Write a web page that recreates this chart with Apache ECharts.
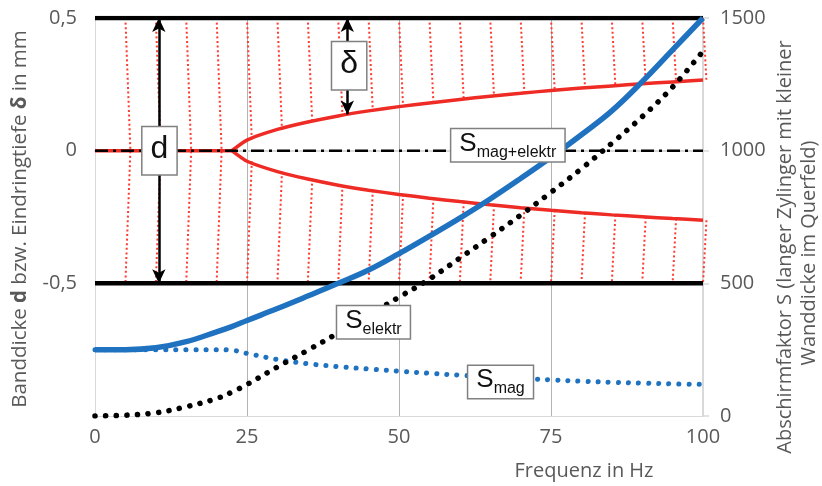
<!DOCTYPE html>
<html>
<head>
<meta charset="utf-8">
<script src="https://cdn.jsdelivr.net/npm/echarts@6/dist/echarts.min.js"></script>
<style>
html,body{margin:0;padding:0;background:#fff;}
#chart{width:822px;height:486px;}
</style>
</head>
<body>
<div id="chart"></div>
<script>
// ---- data ----
var freq = [0, 5, 10, 15, 20, 22.5, 25, 30, 35, 40, 45, 50, 55, 60, 65, 70, 75, 80, 85, 90, 95, 100];
// Abschirmfaktor (right axis)
var sElektr = [250, 250, 257, 280, 317, 337, 360, 405, 452, 500, 550, 612, 678, 746, 818, 895, 975, 1060, 1150, 1260, 1380, 1500];
var sMag = [250, 250, 250, 250, 250, 248, 236, 213, 197, 186, 177, 169, 161, 154, 149, 142, 136, 131, 127, 124, 121, 119];
var sMagElektr = [0, 3, 12, 35, 66, 90, 119, 185, 248, 313, 380, 448, 516, 595, 675, 757, 843, 932, 1028, 1128, 1240, 1375];
// penetration limit curves (left axis, mm)
var deltaUpper = [0, 0, 0, 0, 0, 0, 0.040, 0.080, 0.108, 0.131, 0.150, 0.166, 0.180, 0.193, 0.205, 0.216, 0.227, 0.236, 0.244, 0.252, 0.259, 0.266];
var deltaLower = [0, 0, 0, 0, 0, 0, -0.040, -0.079, -0.107, -0.130, -0.149, -0.165, -0.179, -0.192, -0.204, -0.215, -0.225, -0.234, -0.242, -0.249, -0.256, -0.262];
var splitIndex = 5; // full penetration up to 22.5 Hz
// band surfaces
var bandTop = 0.5;
var bandBottom = -0.5;
var hatchFreq = [5, 10, 15, 20, 25, 30, 35, 40, 45, 50, 55, 60, 65, 70, 75, 80, 85, 90, 95, 100];
// arrows
var dArrowFreq = 10.5;
var deltaArrowFreq = 41.5;
// tick labels
var xTicks = [0, 25, 50, 75, 100];
var leftTicks = ['-0,5', '0', '0,5'];
var rightTicks = [0, 500, 1000, 1500];
// annotation boxes [freq, y(left axis), label]
var annotations = [
  [10.6, 0.0, '{t|d}', 'big'],
  [41.8, 0.32, '{t|δ}', 'big'],
  [67.9, 0.02, '{s|S}{sub|mag+elektr}', 'sub'],
  [45.8, -0.647, '{s|S}{sub|elektr}', 'sub'],
  [66.7, -0.872, '{s|S}{sub|mag}', 'sub']
];

function interp(xs, ys, x) {
  for (var i = 0; i < xs.length - 1; i++) {
    if (x >= xs[i] && x <= xs[i + 1]) {
      var t = (x - xs[i]) / (xs[i + 1] - xs[i]);
      return ys[i] + t * (ys[i + 1] - ys[i]);
    }
  }
  return ys[ys.length - 1];
}
function pairs(xs, ys) { return xs.map(function (x, i) { return [x, ys[i]]; }); }

var FONT = '"Open Sans", Roboto, sans-serif';
var BOXFONT = '"Liberation Sans", sans-serif';
var GREY = '#595959';
var BLUE = '#1f72bf';
var RED = '#ee2b24';

var hatchData = hatchFreq.map(function (f) {
  return [f, interp(freq, deltaUpper, f), interp(freq, deltaLower, f)];
});

var chart = echarts.init(document.getElementById('chart'));
var option = {
  animation: false,
  backgroundColor: '#fff',
  grid: { left: 95, right: 119, top: 18, bottom: 70, containLabel: false },
  xAxis: {
    type: 'value', min: 0, max: 100, interval: 25,
    axisLine: { show: true, lineStyle: { color: '#d9d9d9', width: 2 } },
    axisTick: { show: false },
    axisLabel: { color: GREY, fontSize: 20, fontFamily: FONT, margin: 11,
      formatter: function (v) { return xTicks.indexOf(v) >= 0 ? String(v) : ''; } },
    splitLine: { show: true, lineStyle: { color: '#b3b3b3', width: 1 } }
  },
  yAxis: [
    {
      type: 'value', min: -1, max: 0.5, interval: 0.5,
      axisLine: { show: true, lineStyle: { color: '#d9d9d9', width: 1 } },
      axisTick: { show: false },
      axisLabel: { color: GREY, fontSize: 20, fontFamily: FONT, margin: 18,
        formatter: function (v) {
          var s = String(v).replace('.', ',');
          return leftTicks.indexOf(s) >= 0 ? s : '';
        } },
      splitLine: { show: true, lineStyle: { color: '#d9d9d9', width: 1 } }
    },
    {
      type: 'value', min: 0, max: 1500, interval: 500, position: 'right',
      axisLine: { show: true, lineStyle: { color: '#d9d9d9', width: 2 } },
      axisTick: { show: true, length: 6, lineStyle: { color: '#d9d9d9', width: 1.5 } },
      axisLabel: { color: GREY, fontSize: 20, fontFamily: FONT, margin: 17,
        formatter: function (v) { return rightTicks.indexOf(v) >= 0 ? String(v) : ''; } },
      splitLine: { show: false }
    }
  ],
  graphic: [
    { type: 'text', x: 20, y: 219, rotation: Math.PI / 2, z: 100,
      style: { text: '{a|Banddicke }{b|d}{a| bzw. Eindringtiefe }{b|δ}{a| in mm}',
        align: 'center', verticalAlign: 'middle',
        rich: { a: { fontSize: 20.5, fontFamily: FONT, fill: GREY },
                b: { fontSize: 20.5, fontFamily: FONT, fill: GREY, fontWeight: 'bold' } } } },
    { type: 'text', x: 785, y: 247, rotation: Math.PI / 2, z: 100,
      style: { text: 'Abschirmfaktor S (langer Zylinger mit kleiner', fontSize: 20, fontFamily: FONT,
        fill: GREY, align: 'center', verticalAlign: 'middle' } },
    { type: 'text', x: 809, y: 253, rotation: Math.PI / 2, z: 100,
      style: { text: 'Wanddicke im Querfeld)', fontSize: 20, fontFamily: FONT,
        fill: GREY, align: 'center', verticalAlign: 'middle' } },
    { type: 'text', x: 584, y: 471, z: 100,
      style: { text: 'Frequenz in Hz', fontSize: 20, fontFamily: FONT,
        fill: GREY, align: 'center', verticalAlign: 'middle' } }
  ],
  series: [
    {
      name: 'hatch', type: 'custom', xAxisIndex: 0, yAxisIndex: 0, z: 1,
      data: hatchData, encode: { x: 0, y: 1 }, silent: true,
      renderItem: function (params, api) {
        var f = api.value(0), up = api.value(1), lo = api.value(2);
        var top = api.coord([f, bandTop]);
        var bot = api.coord([f, bandBottom]);
        var style = { stroke: '#ff3a30', lineWidth: 2, lineDash: [2, 2.6], fill: null };
        var children = [];
        if (up === 0 && lo === 0) {
          var mid = api.coord([f, 0]);
          children.push({ type: 'polyline', shape: { points: [top, [mid[0] + 5, mid[1]], bot] }, style: style });
        } else {
          var pu = api.coord([f, up]);
          var pl = api.coord([f, lo]);
          var fu = Math.sqrt((bandTop - up) / bandTop) * 5;
          var fl = Math.sqrt((lo - bandBottom) / bandTop) * 5;
          children.push({ type: 'polyline', shape: { points: [top, [pu[0] + fu, pu[1]]] }, style: style });
          children.push({ type: 'polyline', shape: { points: [[pl[0] + fl, pl[1]], bot] }, style: style });
        }
        return { type: 'group', children: children };
      }
    },
    {
      name: 'bandTop', type: 'line', yAxisIndex: 0, z: 2, symbol: 'none', silent: true,
      data: [[0, bandTop], [100, bandTop]],
      lineStyle: { color: '#000', width: 4.5 },
      markLine: {
        silent: true, symbol: ['arrow', 'arrow'], symbolSize: [10, 14],
        label: { show: false },
        lineStyle: { color: '#000', width: 2.5, type: 'solid' },
        data: [
          [{ coord: [dArrowFreq, bandTop] }, { coord: [dArrowFreq, bandBottom] }],
          [{ coord: [deltaArrowFreq, bandTop] }, { coord: [deltaArrowFreq, interp(freq, deltaUpper, deltaArrowFreq)] }]
        ]
      }
    },
    {
      name: 'bandBottom', type: 'line', yAxisIndex: 0, z: 2, symbol: 'none', silent: true,
      data: [[0, bandBottom], [100, bandBottom]],
      lineStyle: { color: '#000', width: 4.5 }
    },
    {
      name: 'deltaFlat', type: 'line', yAxisIndex: 0, z: 3, symbol: 'none',
      data: pairs(freq.slice(0, splitIndex + 1), deltaUpper.slice(0, splitIndex + 1)),
      lineStyle: { color: RED, width: 3.5 }
    },
    {
      name: 'deltaUpper', type: 'line', yAxisIndex: 0, z: 3, symbol: 'none', smooth: 0.2,
      data: pairs(freq.slice(splitIndex), deltaUpper.slice(splitIndex)), lineStyle: { color: RED, width: 3.5 }
    },
    {
      name: 'deltaLower', type: 'line', yAxisIndex: 0, z: 3, symbol: 'none', smooth: 0.2,
      data: pairs(freq.slice(splitIndex), deltaLower.slice(splitIndex)), lineStyle: { color: RED, width: 3.5 }
    },
    {
      name: 'center', type: 'line', yAxisIndex: 0, z: 4, symbol: 'none',
      data: [[0, 0], [100, 0]],
      lineStyle: { color: '#000', width: 2.5, type: [13, 5, 3, 5] }
    },
    {
      name: 'Smag', type: 'line', yAxisIndex: 1, z: 5, symbol: 'none', smooth: 0.4,
      data: pairs(freq, sMag),
      lineStyle: { color: BLUE, width: 5, type: [0.1, 10], cap: 'round' }
    },
    {
      name: 'Selektr', type: 'line', yAxisIndex: 1, z: 6, symbol: 'none', smooth: 0.4,
      data: pairs(freq, sElektr),
      lineStyle: { color: BLUE, width: 5.5 }
    },
    {
      name: 'SmagElektr', type: 'line', yAxisIndex: 1, z: 7, symbol: 'none', smooth: 0.4,
      data: pairs(freq, sMagElektr),
      lineStyle: { color: '#000', width: 5.5, type: [0.1, 10.5], cap: 'round' }
    },
    {
      name: 'labels', type: 'scatter', yAxisIndex: 0, z: 20, symbolSize: 0, silent: true,
      itemStyle: { opacity: 1 },
      data: annotations.map(function (a) {
        return {
          value: [a[0], a[1]],
          label: {
            show: true, position: 'inside', formatter: a[2], opacity: 1,
            backgroundColor: '#fff', borderColor: '#808080', borderWidth: 1.5,
            padding: a[3] === 'big' ? [3, 8, 6, 8] : [3, 8, 1, 8],
            rich: {
              t: { fontSize: 32, fontFamily: BOXFONT, color: '#111', lineHeight: 38 },
              s: { fontSize: 26, fontFamily: BOXFONT, color: '#111', lineHeight: 28, padding: [0, 0, 6, 0] },
              sub: { fontSize: 16, fontFamily: BOXFONT, color: '#111', lineHeight: 18, verticalAlign: 'bottom' }
            }
          }
        };
      })
    }
  ]
};
chart.setOption(option);
</script>
</body>
</html>
